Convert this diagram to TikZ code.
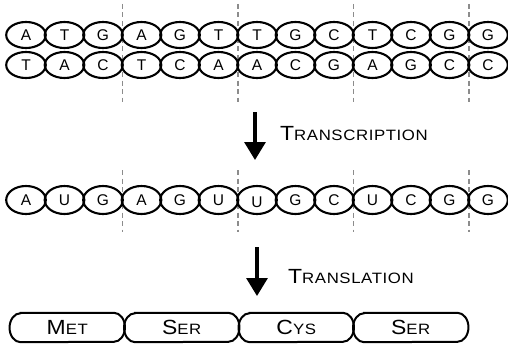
\documentclass[tikz,border=0pt]{standalone}
\usepackage{fontspec}
\setmainfont{Liberation Sans}
\newfontfamily\labfont[FakeStretch=1.12]{Liberation Sans}
\usetikzlibrary{arrows.meta,shapes.geometric}

% capital followed by smaller capitals
\newcommand\capsc[2]{{\labfont\fontsize{20.5}{20}\selectfont #1}{\labfont\fontsize{15}{15}\selectfont\addfontfeature{LetterSpace=4}#2}}

\tikzset{
  base/.style={ellipse, draw=black, line width=2.1pt, inner sep=0pt,
    minimum width=39.6pt, minimum height=26pt,
    font=\fontsize{15.5}{15.5}\selectfont, text height=11pt, text depth=0pt},
  rnabase/.style={base, minimum height=28pt},
  codonsep/.style={draw=black!45, line width=1.5pt, dash pattern=on 5pt off 3.5pt},
  steparrow/.style={line width=3.2pt, -{Triangle[width=21pt,length=18pt]}},
  residue/.style={minimum width=115pt, minimum height=29pt, inner sep=0pt,
    text height=14pt, text depth=0pt},
  residueline/.style={draw=black, line width=2pt},
  steplabel/.style={anchor=base west, inner sep=0pt}
}

\begin{document}
\begin{tikzpicture}[x=1pt,y=-1pt]
\useasboundingbox (0,0) rectangle (508,345);

% codon boundaries
\foreach \k in {3,6,9,12}{
  \coordinate (dt\k) at ({26+38.5*(\k-0.5)},4);
  \coordinate (db\k) at ({26+38.5*(\k-0.5)},102);
  \coordinate (rt\k) at ({26+38.5*(\k-0.5)},170);
  \coordinate (rb\k) at ({26+38.5*(\k-0.5)},232);
  \draw[codonsep] (dt\k) -- (db\k);
  \draw[codonsep] (rt\k) -- (rb\k);
}

% DNA coding strand
\foreach \b [count=\i from 0] in {A,T,G,A,G,T,T,G,C,T,C,G,G}
  \node[base] (s\i) at ({26+38.5*\i},35) {\b};
% DNA template strand
\foreach \b [count=\i from 0] in {T,A,C,T,C,A,A,C,G,A,G,C,C}
  \node[base] (t\i) at ({26+38.5*\i},65) {\b};
% mRNA
\foreach \b [count=\i from 0] in {A,U,G,A,G,U,U,G,C,U,C,G,G}
  \node[rnabase] (m\i) at ({26+38.5*\i},200) {\ifnum\i=6 \raisebox{-1.5pt}{\b}\else\b\fi};

% transcription step
\coordinate (ta) at (255,112);
\coordinate (tb) at (255,160);
\draw[steparrow] (ta) -- (tb);
\node[steplabel] (tl) at (280,140) {\capsc{T}{RANSCRIPTION}};

% translation step
\coordinate (la) at (257,247);
\coordinate (lb) at (257,296);
\draw[steparrow] (la) -- (lb);
\node[steplabel] (ll) at (288,283) {\capsc{T}{RANSLATION}};

% polypeptide: boxes with half-elliptic ends
\foreach \aa/\rest [count=\i from 0] in {M/ET,S/ER,C/YS,S/ER}{
  \node[residue] (p\i) at ({10+57.25+114.5*\i},327.5) {\capsc{\aa}{\rest}};
  \draw[residueline] ([xshift=11pt]p\i.north west) -- ([xshift=-11pt]p\i.north east)
    arc[start angle=90, end angle=-90, x radius=11pt, y radius=14.5pt]
    -- ([xshift=11pt]p\i.south west)
    arc[start angle=270, end angle=90, x radius=11pt, y radius=14.5pt] -- cycle;
}
\end{tikzpicture}
\end{document}
